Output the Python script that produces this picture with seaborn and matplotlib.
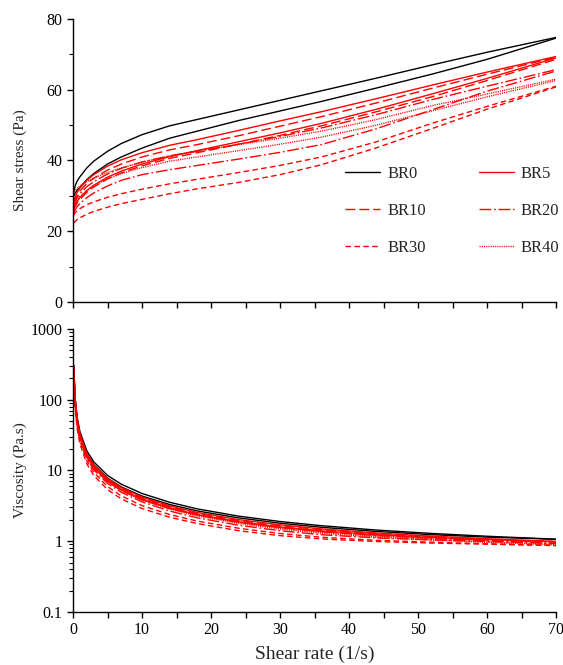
import numpy as np
import pandas as pd
import matplotlib
matplotlib.use("Agg")
import matplotlib.pyplot as plt
from matplotlib.lines import Line2D
from matplotlib.ticker import MultipleLocator, LogLocator, NullFormatter, FuncFormatter
import seaborn as sns

# shear rate grid (1/s)
rate = [0.1, 0.3, 0.6, 1, 2, 3, 5, 7, 10, 14, 18, 24, 30, 36, 44, 52, 60, 70]

# shear stress (Pa), upward and downward branch of every loop
br0_up = [31.0, 32.8, 34.2, 35.4, 37.9, 39.8, 42.6, 44.8, 47.3, 49.8, 51.6, 54.3, 57.0, 59.7, 63.3, 67.0, 70.6, 74.8]
br0_dn = [30.0, 30.8, 31.6, 32.4, 34.6, 36.3, 39.0, 41.0, 43.5, 46.3, 48.3, 51.3, 54.0, 56.7, 60.5, 64.4, 68.6, 74.6]
br5_up = [28.5, 29.8, 31.0, 32.2, 34.4, 36.0, 38.4, 40.2, 42.2, 44.3, 45.9, 48.5, 51.2, 53.8, 57.5, 61.3, 65.0, 69.4]
br5_dn = [26.5, 27.5, 28.5, 29.5, 31.5, 33.0, 35.3, 37.0, 39.0, 41.1, 42.8, 45.3, 47.8, 50.5, 54.5, 58.8, 63.2, 69.0]
br10_up = [27.8, 29.0, 30.2, 31.4, 33.5, 35.0, 37.3, 39.0, 41.0, 43.0, 44.5, 47.0, 49.7, 52.4, 56.3, 60.4, 64.4, 69.2]
br10_dn = [26.0, 27.0, 28.0, 29.0, 31.0, 32.5, 34.8, 36.5, 38.5, 40.6, 42.2, 44.6, 47.1, 49.8, 53.8, 58.0, 62.6, 68.6]
br20_up = [27.2, 28.4, 29.5, 30.6, 32.6, 34.0, 36.2, 37.8, 39.6, 41.3, 42.6, 44.6, 46.8, 49.2, 53.0, 57.2, 61.0, 65.7]
br20_dn = [25.0, 26.0, 27.0, 27.8, 29.5, 30.8, 32.8, 34.4, 36.0, 37.4, 38.6, 40.4, 42.3, 44.5, 49.0, 54.3, 59.6, 65.3]
br30_up = [24.5, 25.2, 25.8, 26.4, 27.5, 28.3, 29.6, 30.6, 31.9, 33.4, 34.7, 36.6, 38.6, 41.0, 45.3, 50.5, 55.3, 61.0]
br30_dn = [22.3, 22.8, 23.3, 23.8, 24.8, 25.6, 26.8, 27.8, 29.0, 30.6, 32.0, 33.8, 36.0, 38.8, 43.6, 49.0, 54.5, 60.8]
br40_up = [30.5, 31.5, 32.2, 32.8, 34.0, 35.0, 36.6, 37.9, 39.5, 41.3, 42.7, 44.5, 46.3, 48.3, 51.6, 55.5, 58.8, 63.0]
br40_dn = [27.0, 28.0, 29.0, 29.8, 31.5, 32.8, 34.8, 36.3, 38.0, 39.8, 41.0, 42.8, 44.6, 46.6, 50.0, 54.0, 58.0, 62.6]

samples = ["BR0", "BR5", "BR10", "BR20", "BR30", "BR40"]
loops = {
    "BR0": (br0_up, br0_dn), "BR5": (br5_up, br5_dn), "BR10": (br10_up, br10_dn),
    "BR20": (br20_up, br20_dn), "BR30": (br30_up, br30_dn), "BR40": (br40_up, br40_dn),
}

rows = []
for s in samples:
    for branch, vals in zip(["up", "down"], loops[s]):
        for r, t in zip(rate, vals):
            # viscosity = shear stress / shear rate
            rows.append({"sample": s, "branch": branch, "rate": r, "stress": t, "visc": t / r})
df = pd.DataFrame(rows)

colors = {"BR0": "black", "BR5": "#ff0000", "BR10": "#ff0000", "BR20": "#ff0000",
          "BR30": "#ff0000", "BR40": "#ff0000"}
dashes = {"BR0": "", "BR5": "", "BR10": (7, 3), "BR20": (8.5, 2, 1.2, 2),
          "BR30": (4, 2.4), "BR40": (0.8, 0.8)}

sns.set_style("ticks")
plt.rcParams["font.family"] = ["Liberation Serif", "DejaVu Serif"]
plt.rcParams["axes.linewidth"] = 1.0

fig = plt.figure(figsize=(5.63, 6.65), dpi=100)
ax1 = fig.add_axes([0.1297, 0.5459, 0.8579, 0.4255])
ax2 = fig.add_axes([0.1297, 0.0797, 0.8579, 0.4256])

for ax, col in [(ax1, "stress"), (ax2, "visc")]:
    sns.lineplot(data=df, x="rate", y=col, hue="sample", style="sample", units="branch",
                 estimator=None, sort=False, palette=colors, dashes=dashes,
                 linewidth=1.0, legend=False, ax=ax)

# axes formatting
ax1.set_xlim(0, 70)
ax1.set_ylim(0, 80)
ax1.xaxis.set_major_locator(MultipleLocator(5))
ax1.xaxis.set_major_formatter(NullFormatter())
ax1.yaxis.set_major_locator(MultipleLocator(20))
ax1.yaxis.set_minor_locator(MultipleLocator(10))
ax1.set_xlabel("")
ax1.set_ylabel("Shear stress (Pa)", fontsize=11)

ax2.set_xlim(0, 70)
ax2.set_yscale("log")
ax2.set_ylim(0.1, 1000)
ax2.xaxis.set_major_locator(MultipleLocator(10))
ax2.xaxis.set_minor_locator(MultipleLocator(5))
ax2.yaxis.set_major_locator(LogLocator(base=10, numticks=10))
ax2.yaxis.set_minor_locator(LogLocator(base=10, subs=np.arange(2, 10), numticks=20))
ax2.yaxis.set_minor_formatter(NullFormatter())
ax2.yaxis.set_major_formatter(FuncFormatter(lambda v, p: f"{v:g}"))
ax2.set_xlabel("Shear rate (1/s)", fontsize=14, labelpad=5)
ax2.set_ylabel("Viscosity (Pa.s)", fontsize=11)

for ax in (ax1, ax2):
    sns.despine(ax=ax)
    ax.tick_params(axis="both", which="major", direction="out", length=4, width=1,
                   labelsize=11.5, color="black", labelcolor="black")
    ax.tick_params(axis="both", which="minor", direction="out", length=3, width=0.8,
                   color="black")
    for sp in ax.spines.values():
        sp.set_color("black")
ax2.tick_params(axis="x", which="minor", length=4, width=1)
ax1.yaxis.set_label_coords(-0.095, 0.5)
ax2.yaxis.set_label_coords(-0.095, 0.5)

# legend filled row by row: BR0 BR5 / BR10 BR20 / BR30 BR40
order = ["BR0", "BR10", "BR30", "BR5", "BR20", "BR40"]
handles = [Line2D([], [], color=colors[s], linewidth=1.0,
                  linestyle="-" if dashes[s] == "" else (0, dashes[s])) for s in order]
ax1.legend(handles, order, ncol=2, frameon=False, loc="lower right",
           bbox_to_anchor=(1.038, 0.11), fontsize=12, handlelength=2.1,
           labelspacing=1.25, columnspacing=3.2, handletextpad=0.4)

fig.savefig("out.png", dpi=100)
